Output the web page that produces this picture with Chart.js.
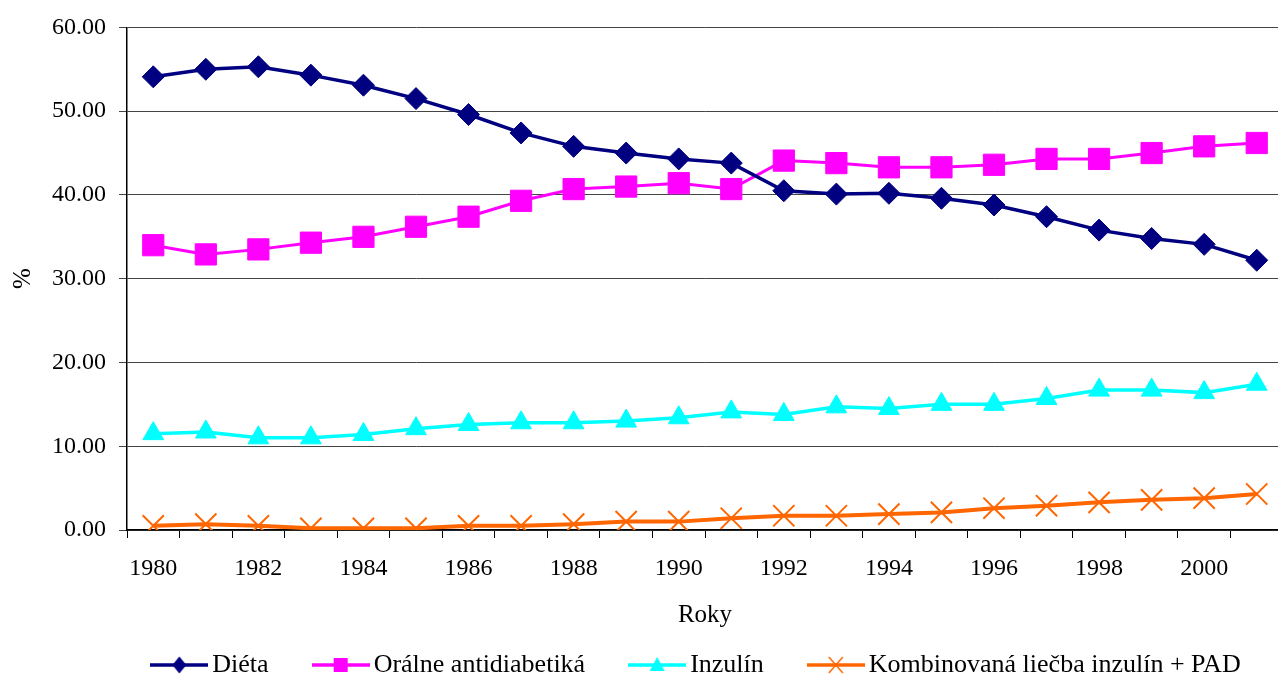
<!DOCTYPE html>
<html>
<head>
<meta charset="utf-8">
<script src="https://cdn.jsdelivr.net/npm/chart.js@4.4.1/dist/chart.umd.min.js"></script>
<style>
  html, body { margin: 0; padding: 0; background: #fff; overflow: hidden; }
  #wrap { width: 1278px; height: 677px; overflow: hidden; position: relative; }
  canvas { display: block; }
</style>
</head>
<body>
<div id="wrap"><canvas id="c" width="1300" height="677"></canvas></div>
<script>
const years = ['1980','1981','1982','1983','1984','1985','1986','1987','1988','1989','1990',
               '1991','1992','1993','1994','1995','1996','1997','1998','1999','2000','2001'];
const dieta = [54.1, 55.0, 55.3, 54.3, 53.1, 51.5, 49.6, 47.4, 45.8, 45.0, 44.3,
               43.8, 40.5, 40.1, 40.2, 39.6, 38.8, 37.4, 35.8, 34.8, 34.1, 32.2];
const oralne = [34.0, 32.9, 33.5, 34.3, 35.0, 36.2, 37.4, 39.3, 40.7, 41.0, 41.4,
                40.7, 44.1, 43.8, 43.3, 43.3, 43.6, 44.3, 44.3, 45.0, 45.8, 46.2];
const inzulin = [11.5, 11.7, 11.0, 11.0, 11.4, 12.1, 12.6, 12.8, 12.8, 13.0, 13.4,
                 14.1, 13.8, 14.7, 14.5, 15.0, 15.0, 15.7, 16.7, 16.7, 16.4, 17.4];
const kombinovana = [0.5, 0.7, 0.5, 0.2, 0.2, 0.2, 0.5, 0.5, 0.7, 1.0, 1.0,
                     1.4, 1.7, 1.7, 1.9, 2.1, 2.6, 2.9, 3.3, 3.6, 3.8, 4.3];
const seriesNames = ['Diéta', 'Orálne antidiabetiká', 'Inzulín', 'Kombinovaná liečba inzulín + PAD'];
const yTicks = [0, 10, 20, 30, 40, 50, 60];

const colors = ['#000080', '#FF00FF', '#00FFFF', '#FF6600'];
const styles = ['rectRot', 'rect', 'triangle', 'crossRot'];

// legend icons: line with marker
function makeIcon(color, style) {
  const cv = document.createElement('canvas');
  cv.width = 58; cv.height = 20;
  const g = cv.getContext('2d');
  g.strokeStyle = color; g.fillStyle = color; g.lineWidth = 3.5;
  g.beginPath(); g.moveTo(0, 10); g.lineTo(58, 10); g.stroke();
  const cx = 29, cy = 10;
  g.beginPath();
  if (style === 'rectRot') {
    g.moveTo(cx, cy - 8.5); g.lineTo(cx + 7, cy); g.lineTo(cx, cy + 8.5); g.lineTo(cx - 7, cy); g.closePath(); g.fill();
  } else if (style === 'rect') {
    g.rect(cx - 7, cy - 7, 14, 14); g.fill();
  } else if (style === 'triangle') {
    g.moveTo(cx, cy - 8); g.lineTo(cx + 7.5, cy + 6); g.lineTo(cx - 7.5, cy + 6); g.closePath(); g.fill();
  } else {
    g.lineWidth = 1.5;
    g.moveTo(cx - 7, cy - 8); g.lineTo(cx + 7, cy + 8);
    g.moveTo(cx + 7, cy - 8); g.lineTo(cx - 7, cy + 8); g.stroke();
  }
  return cv;
}
const icons = colors.map((c, i) => makeIcon(c, styles[i]));

const legendShift = {
  id: 'legendShift',
  afterLayout(chart) {
    const lg = chart.legend;
    if (!lg) return;
    const pad = lg.options.labels.padding;
    const dy = 665 - (lg.top + pad + 13);
    const dx = 700 - (lg.left + lg.right) / 2;
    lg.top += dy; lg.left += dx; lg.right += dx;
    lg.bottom = 700;
  }
};

const font = 'Liberation Serif, Times New Roman, serif';

function ds(label, data, i, radius, bw, pbw) {
  return {
    label, data,
    borderColor: colors[i], backgroundColor: colors[i],
    pointBackgroundColor: colors[i], pointBorderColor: colors[i],
    pointStyle: styles[i], pointRadius: radius, pointHoverRadius: radius,
    pointBorderWidth: pbw, borderWidth: bw, tension: 0, fill: false
  };
}

new Chart(document.getElementById('c'), {
  type: 'line',
  data: {
    labels: years,
    datasets: [
      ds(seriesNames[0], dieta, 0, 11, 3.5, 1),
      ds(seriesNames[1], oralne, 1, 15, 3, 1),
      ds(seriesNames[2], inzulin, 2, 12, 3.5, 1),
      ds(seriesNames[3], kombinovana, 3, 15, 4, 2)
    ]
  },
  plugins: [legendShift],
  options: {
    responsive: false,
    animation: false,
    events: [],
    layout: { padding: { top: 27, right: 12, left: 0, bottom: 0 } },
    plugins: {
      tooltip: { enabled: false },
      legend: {
        position: 'bottom',
        maxHeight: 34,
        labels: {
          usePointStyle: true,
          pointStyleWidth: 40,
          boxHeight: 20,
          padding: 52,
          color: '#000',
          font: { family: font, size: 26 },
          generateLabels(chart) {
            const items = Chart.defaults.plugins.legend.labels.generateLabels(chart);
            items.forEach((it, i) => { it.pointStyle = icons[i]; });
            return items;
          }
        }
      }
    },
    scales: {
      x: {
        type: 'category',
        offset: true,
        afterFit(scale) { scale.height = 147 - (scale.chart.legend ? scale.chart.legend.height : 34); },
        grid: { display: true, drawOnChartArea: false, drawTicks: true, tickLength: 8, offset: true, color: '#000', lineWidth: 1 },
        border: { display: true, color: '#000', width: 1.5 },
        ticks: {
          autoSkip: false, maxRotation: 0, minRotation: 0, padding: 16,
          color: '#000', font: { family: font, size: 24 },
          callback(v, i) { return i % 2 === 0 ? years[i] : ''; }
        },
        title: { display: true, text: 'Roky', color: '#000', font: { family: font, size: 25 }, padding: { top: 4, bottom: 13 } }
      },
      y: {
        min: 0, max: 60,
        afterFit(scale) { scale.width = 127; },
        afterBuildTicks(scale) { scale.ticks = yTicks.map(v => ({ value: v })); },
        grid: { color: '#444', lineWidth: 1, drawTicks: true, tickLength: 8 },
        border: { display: true, color: '#000', width: 1.5 },
        ticks: {
          padding: 13, color: '#000', font: { family: font, size: 24 },
          callback(v) { return Number(v).toFixed(2); }
        },
        title: { display: true, text: '%', color: '#000', font: { family: font, size: 25 }, padding: { top: 8, bottom: 0 } }
      }
    }
  }
});
</script>
</body>
</html>
